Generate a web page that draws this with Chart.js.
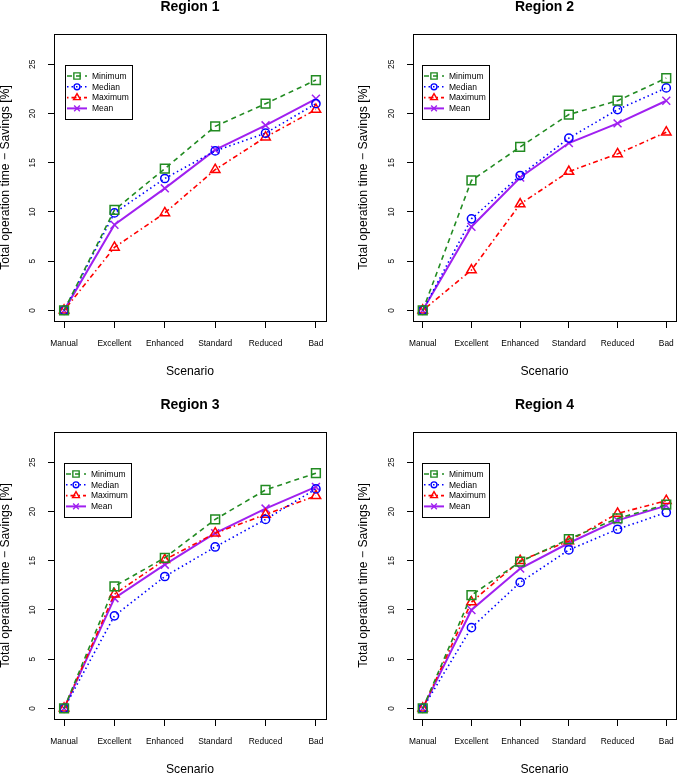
<!DOCTYPE html>
<html>
<head>
<meta charset="utf-8">
<script src="https://cdn.jsdelivr.net/npm/chart.js"></script>
<style>
  html, body { margin: 0; padding: 0; background: #fff; }
  body { width: 685px; height: 773px; position: relative; overflow: hidden; }
  canvas { position: absolute; }
</style>
</head>
<body>
<canvas id="c1" width="343" height="390" style="left:0px;top:0px"></canvas>
<canvas id="c2" width="327" height="390" style="left:358px;top:0px"></canvas>
<canvas id="c3" width="343" height="390" style="left:0px;top:398px"></canvas>
<canvas id="c4" width="327" height="390" style="left:358px;top:398px"></canvas>
<script>
const scenarios = ['Manual', 'Excellent', 'Enhanced', 'Standard', 'Reduced', 'Bad'];
const yTicks = [0, 5, 10, 15, 20, 25];
const seriesNames = ['Minimum', 'Median', 'Maximum', 'Mean'];

// values (percent savings)
const r1Min    = [0, 10.2, 14.4, 18.7, 21.0, 23.4];
const r1Median = [0, 9.9, 13.4, 16.2, 18.0, 21.0];
const r1Max    = [0, 6.4, 9.9, 14.3, 17.6, 20.4];
const r1Mean   = [0, 8.7, 12.4, 16.3, 18.8, 21.5];

const r2Min    = [0, 13.2, 16.6, 19.9, 21.3, 23.6];
const r2Median = [0, 9.3, 13.7, 17.5, 20.4, 22.6];
const r2Max    = [0, 4.1, 10.8, 14.1, 15.9, 18.1];
const r2Mean   = [0, 8.5, 13.5, 17.0, 19.0, 21.3];

const r3Min    = [0, 12.4, 15.3, 19.2, 22.2, 23.9];
const r3Median = [0, 9.4, 13.4, 16.4, 19.2, 22.3];
const r3Max    = [0, 11.6, 15.1, 17.8, 19.7, 21.6];
const r3Mean   = [0, 11.2, 14.6, 17.8, 20.3, 22.5];

const r4Min    = [0, 11.5, 14.9, 17.2, 19.3, 20.7];
const r4Median = [0, 8.2, 12.8, 16.1, 18.2, 19.9];
const r4Max    = [0, 10.8, 15.0, 17.0, 19.8, 21.1];
const r4Mean   = [0, 10.0, 14.2, 16.8, 19.1, 20.6];

const FONT = '"Liberation Sans", Arial, Helvetica, sans-serif';

const styles = [
  { color: '#228B22', dash: [5, 4], style: 'rect', radius: 6.2, width: 1.6 },
  { color: '#0000FF', dash: [1.5, 3], style: 'circle', radius: 4.1, width: 1.6 },
  { color: '#FF0000', dash: [1.5, 3, 5, 3], style: 'triangle', radius: 5.5, width: 1.6 },
  { color: '#A020F0', dash: [], style: 'crossRot', radius: 5.6, width: 2 }
];

function makeDatasets(series) {
  return series.map((vals, k) => ({
    label: seriesNames[k],
    data: vals.map((v, i) => ({ x: i + 1, y: v })),
    borderColor: styles[k].color,
    borderWidth: styles[k].width,
    borderDash: styles[k].dash,
    pointStyle: styles[k].style,
    pointRadius: styles[k].radius,
    pointBorderColor: styles[k].color,
    pointBackgroundColor: 'rgba(0,0,0,0)',
    pointBorderWidth: 1.5,
    tension: 0,
    fill: false
  }));
}

const panelDecor = {
  id: 'panelDecor',
  afterDraw(chart, args, opts) {
    const ctx = chart.ctx;
    const a = chart.chartArea;
    ctx.save();
    // frame
    ctx.strokeStyle = '#000';
    ctx.lineWidth = 1;
    ctx.setLineDash([]);
    ctx.strokeRect(Math.round(a.left) + 0.5, Math.round(a.top) + 0.5,
      Math.round(a.right - a.left), Math.round(a.bottom - a.top));
    // panel title
    ctx.fillStyle = '#000';
    ctx.font = 'bold 14px ' + FONT;
    ctx.textAlign = 'center';
    ctx.textBaseline = 'middle';
    ctx.fillText(opts.title, (a.left + a.right) / 2, a.top - 27);
    // legend
    const lx = a.left + opts.legendDx, ly = a.top + 31, lw = 67, lh = 54;
    ctx.fillStyle = '#fff';
    ctx.fillRect(lx, ly, lw, lh);
    ctx.strokeStyle = '#000';
    ctx.strokeRect(Math.round(lx) + 0.5, Math.round(ly) + 0.5, lw, lh);
    chart.data.datasets.forEach((ds, k) => {
      const y = ly + 11 + k * 10.8;
      ctx.strokeStyle = ds.borderColor;
      ctx.lineWidth = ds.borderWidth;
      ctx.setLineDash(ds.borderDash);
      ctx.beginPath();
      ctx.moveTo(lx + 2, y);
      ctx.lineTo(lx + 22, y);
      ctx.stroke();
      ctx.setLineDash([]);
      ctx.fillStyle = 'rgba(0,0,0,0)';
      ctx.lineWidth = 1.4;
      Chart.helpers.drawPoint(ctx, {
        pointStyle: ds.pointStyle, radius: ds.pointRadius * 0.72, rotation: 0, borderWidth: 1.4
      }, lx + 12, y);
      ctx.fillStyle = '#000';
      ctx.font = '8.5px ' + FONT;
      ctx.textAlign = 'left';
      ctx.textBaseline = 'middle';
      ctx.fillText(ds.label, lx + 27, y + 0.5);
    });
    ctx.restore();
  }
};

function makeChart(id, title, series, padRight, yWidth, legendDx) {
  return new Chart(document.getElementById(id), {
    type: 'line',
    data: { datasets: makeDatasets(series) },
    options: {
      responsive: false,
      animation: false,
      devicePixelRatio: 1,
      layout: { padding: { left: 0, right: padRight, top: 34, bottom: 0 } },
      plugins: {
        legend: { display: false },
        tooltip: { enabled: false },
        panelDecor: { title: title, legendDx: legendDx }
      },
      scales: {
        x: {
          type: 'linear',
          min: 0.8,
          max: 6.2,
          afterBuildTicks: (s) => { s.ticks = scenarios.map((_, i) => ({ value: i + 1 })); },
          afterFit: (s) => { s.height = 69; },
          border: { display: false },
          grid: { drawOnChartArea: false, drawTicks: true, tickLength: 7, color: '#000', lineWidth: 1 },
          ticks: {
            padding: 11,
            color: '#000',
            font: { family: FONT, size: 8.4 },
            maxRotation: 0,
            autoSkip: false,
            callback: (v) => scenarios[v - 1]
          },
          title: {
            display: true,
            text: 'Scenario',
            color: '#000',
            font: { family: FONT, size: 12.2, lineHeight: 1 },
            padding: { top: 0, bottom: 12 }
          }
        },
        y: {
          type: 'linear',
          min: -1.08,
          max: 28.08,
          afterBuildTicks: (s) => { s.ticks = yTicks.map(v => ({ value: v })); },
          afterFit: (s) => { s.width = yWidth; },
          border: { display: false },
          grid: { drawOnChartArea: false, drawTicks: true, tickLength: 6, color: '#000', lineWidth: 1 },
          ticks: {
            padding: 10.5,
            color: '#000',
            crossAlign: 'center',
            minRotation: 90,
            maxRotation: 90,
            font: { family: FONT, size: 8.4 }
          },
          title: {
            display: true,
            text: 'Total operation time \u2212 Savings [%]',
            color: '#000',
            font: { family: FONT, size: 12.2, lineHeight: 1 },
            padding: { top: 0, bottom: 0 }
          }
        }
      }
    },
    plugins: [panelDecor]
  });
}

makeChart('c1', 'Region 1', [r1Min, r1Median, r1Max, r1Mean], 17, 54, 11);
makeChart('c2', 'Region 2', [r2Min, r2Median, r2Max, r2Mean], 2, 55, 9);
makeChart('c3', 'Region 3', [r3Min, r3Median, r3Max, r3Mean], 17, 54, 10);
makeChart('c4', 'Region 4', [r4Min, r4Median, r4Max, r4Mean], 2, 55, 9);
</script>
</body>
</html>
